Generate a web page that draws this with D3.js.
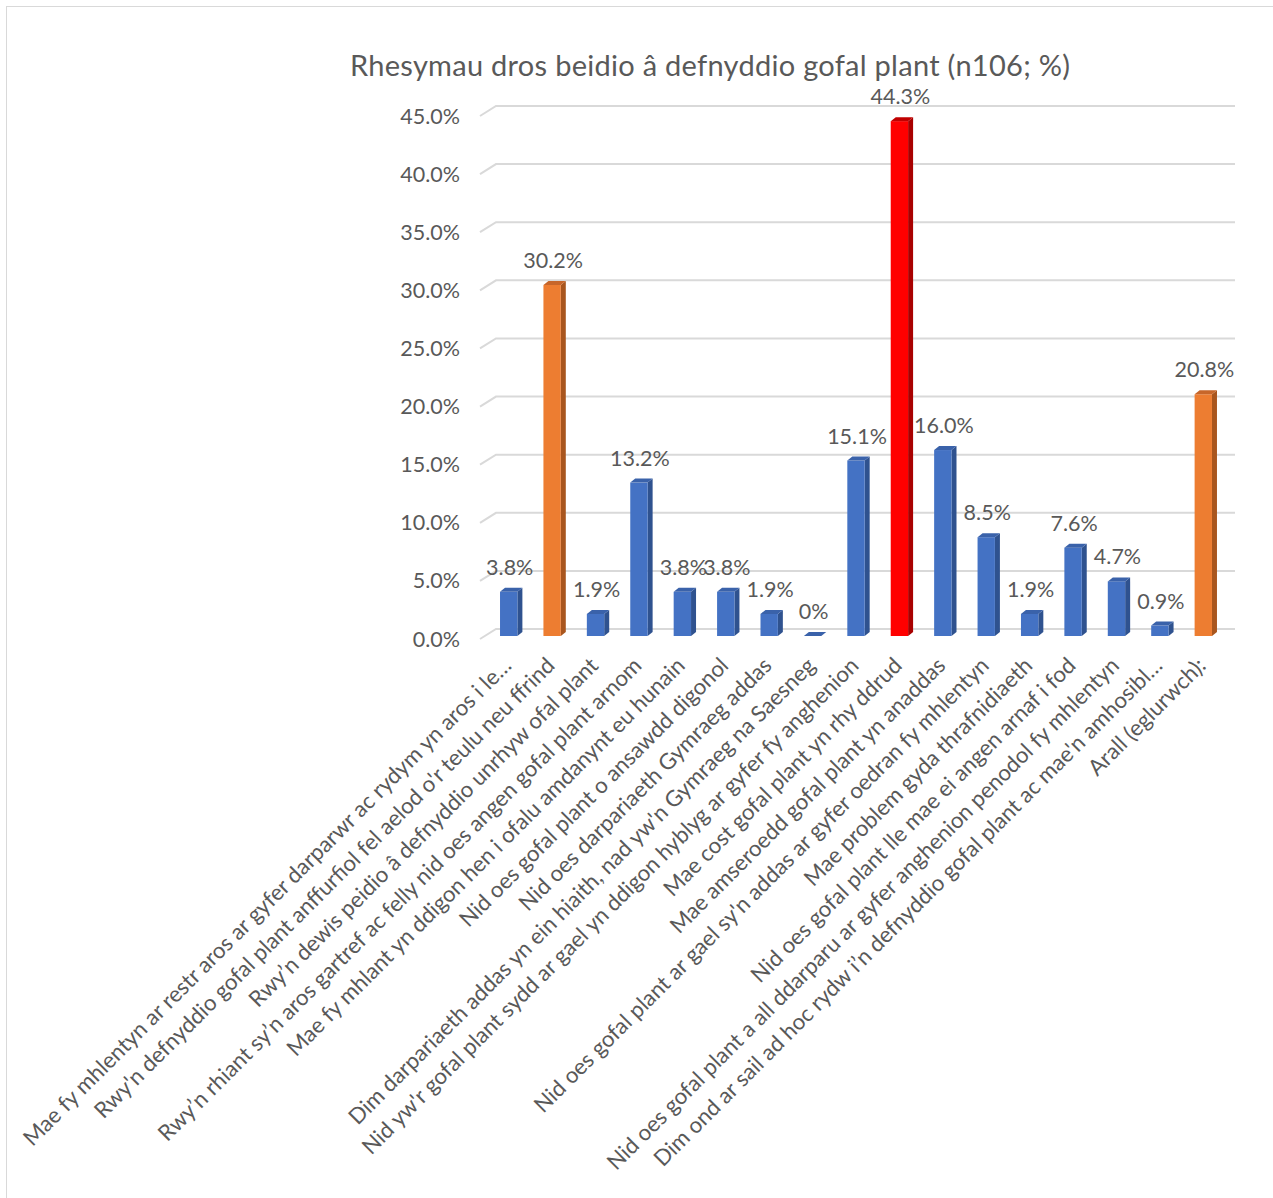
<!DOCTYPE html>
<html>
<head>
<meta charset="utf-8">
<script src="https://cdn.jsdelivr.net/npm/d3@7"></script>
<style>
  body { margin: 0; background: #fff; }
  svg { display: block; }
  text { font-family: Lato, "Open Sans", sans-serif; fill: #595959; }
</style>
</head>
<body>
<svg id="chart" width="1273" height="1198"></svg>
<script>
// data
const categories = [
  "Mae fy mhlentyn ar restr aros ar gyfer darparwr ac rydym yn aros i le…",
  "Rwy'n defnyddio gofal plant anffurfiol fel aelod o'r teulu neu ffrind",
  "Rwy’n dewis peidio â defnyddio unrhyw ofal plant",
  "Rwy’n rhiant sy’n aros gartref ac felly nid oes angen gofal plant arnom",
  "Mae fy mhlant yn ddigon hen i ofalu amdanynt eu hunain",
  "Nid oes gofal plant o ansawdd digonol",
  "Nid oes darpariaeth Gymraeg addas",
  "Dim darpariaeth addas yn ein hiaith, nad yw'n Gymraeg na Saesneg",
  "Nid yw'r gofal plant sydd ar gael yn ddigon hyblyg ar gyfer fy anghenion",
  "Mae cost gofal plant yn rhy ddrud",
  "Mae amseroedd gofal plant yn anaddas",
  "Nid oes gofal plant ar gael sy'n addas ar gyfer oedran fy mhlentyn",
  "Mae problem gyda thrafnidiaeth",
  "Nid oes gofal plant lle mae ei angen arnaf i fod",
  "Nid oes gofal plant a all ddarparu ar gyfer anghenion penodol fy mhlentyn",
  "Dim ond ar sail ad hoc rydw i’n defnyddio gofal plant ac mae'n amhosibl…",
  "Arall (eglurwch):"
];
const values = [3.8, 30.2, 1.9, 13.2, 3.8, 3.8, 1.9, 0, 15.1, 44.3, 16.0, 8.5, 1.9, 7.6, 4.7, 0.9, 20.8];
const barGroups = ["blue", "orange", "blue", "blue", "blue", "blue", "blue", "blue", "blue", "red",
  "blue", "blue", "blue", "blue", "blue", "blue", "orange"];
const yTicks = [0, 5, 10, 15, 20, 25, 30, 35, 40, 45];
const title = "Rhesymau dros beidio â defnyddio gofal plant (n106; %)";

const palette = {
  blue:   { front: "#4472C4", side: "#2F528F", top: "#3A62AA" },
  orange: { front: "#ED7D31", side: "#A9561E", top: "#C7662A" },
  red:    { front: "#FF0000", side: "#A80000", top: "#C00000" }
};

const svg = d3.select("#chart");

// chart border
svg.append("rect")
  .attr("x", 6.5).attr("y", 6.5)
  .attr("width", 1290).attr("height", 1210)
  .attr("fill", "none")
  .attr("stroke", "#D9D9D9");

svg.append("text")
  .attr("x", 710).attr("y", 76)
  .attr("text-anchor", "middle")
  .attr("textLength", 720)
  .style("font-size", "29px")
  .text(title);

const x = d3.scaleBand()
  .domain(categories)
  .range([487, 1225])
  .paddingInner(0.6)
  .paddingOuter(0.3);

const y = d3.scaleLinear().domain([0, 45]).range([636, 113]);

const depthX = 5, depthY = 4;   // 3D offset of bars
const wallX = 16, wallY = 10;   // offset of back wall gridlines

// gridlines with the slanted floor piece at the left
const grid = svg.append("g");
grid.selectAll("path")
  .data(yTicks)
  .join("path")
  .attr("d", d => {
    const yf = y(d) + 3;
    return `M480,${yf}L${480 + wallX},${yf - wallY}L1235,${yf - wallY}`;
  })
  .attr("fill", "none")
  .attr("stroke", "#D9D9D9")
  .attr("stroke-width", 2);

svg.append("g")
  .selectAll("text")
  .data(yTicks)
  .join("text")
  .attr("x", 460)
  .attr("y", d => y(d) + 3)
  .attr("dy", "0.35em")
  .attr("text-anchor", "end")
  .style("font-size", "21.5px")
  .text(d => d.toFixed(1) + "%");

// bars
const bars = svg.append("g")
  .selectAll("g")
  .data(values)
  .join("g")
  .attr("transform", (d, i) => `translate(${x(categories[i])},0)`);

const bw = x.bandwidth();

bars.append("path")
  .attr("d", d => `M${bw},${y(d)}L${bw + depthX},${y(d) - depthY}L${bw + depthX},${y(0) - depthY}L${bw},${y(0)}Z`)
  .attr("fill", (d, i) => palette[barGroups[i]].side);

bars.append("rect")
  .attr("x", 0)
  .attr("y", d => y(d))
  .attr("width", bw)
  .attr("height", d => y(0) - y(d))
  .attr("fill", (d, i) => palette[barGroups[i]].front);

bars.append("path")
  .attr("d", d => `M0,${y(d)}L${depthX},${y(d) - depthY}L${bw + depthX},${y(d) - depthY}L${bw},${y(d)}Z`)
  .attr("fill", (d, i) => palette[barGroups[i]].top);

// value labels
bars.append("text")
  .attr("x", bw / 2 + 1)
  .attr("y", d => y(d) - 17)
  .attr("text-anchor", "middle")
  .style("font-size", "21.5px")
  .text(d => d === 0 ? "0%" : d.toFixed(1) + "%");

// rotated category labels
svg.append("g")
  .selectAll("text")
  .data(categories)
  .join("text")
  .attr("transform", d => `translate(${x(d) + bw / 2 + 4},${667}) rotate(-45)`)
  .attr("text-anchor", "end")
  .style("font-size", "22.2px")
  .text(d => d);
</script>
</body>
</html>
